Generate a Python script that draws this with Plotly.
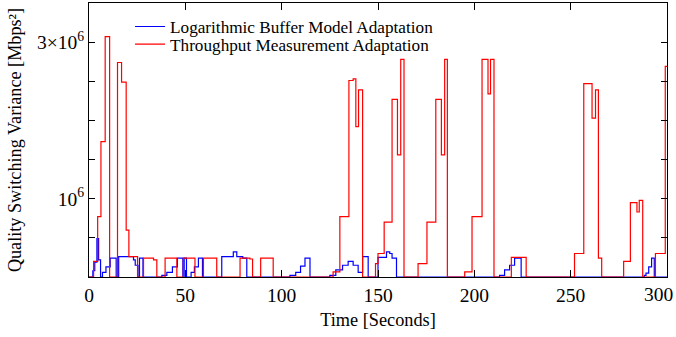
import numpy as np
import plotly.graph_objects as go

# Time [s] where the step value changes, and the value (in 10^6 Mbps^2)
red_t = [0, 2.4, 4.5, 6.2, 8.4, 10.7, 14.8, 16.9, 19.3, 20.7, 25.2,
         28.3, 33.5, 35.2, 39.5, 45.6, 49.0, 55.0, 59.4, 66.3,
         78.4, 83.5, 84.9, 89.1, 95.6,
         126.7, 130.2, 134.9, 137.1, 138.5, 139.9, 142.0,
         148.7, 150.0, 153.2, 157.3, 160.1, 161.8, 163.5,
         170.8, 175.4, 180.0, 182.9, 184.6, 186.0,
         195.0, 198.8, 204.0, 207.1, 208.4, 210.2,
         219.2, 226.9,
         252.0, 256.8, 261.1, 262.9, 264.4, 266.1,
         277.5, 281.0, 284.4, 285.6, 287.4,
         294.0, 299.1, 300.0]
red_v = [0, 0.20, 0.77, 1.73, 3.07, 0, 2.74, 2.49, 0.60, 0.26, 0,
         0.24, 0.22, 0, 0.24, 0, 0.24, 0, 0.24, 0,
         0.24, 0.23, 0, 0.24, 0,
         0.065, 0.77, 2.51, 2.53, 1.92, 2.39, 0,
         0.17, 0.30, 0.70, 2.27, 1.56, 2.78, 0,
         0.17, 0.70, 2.27, 1.56, 2.78, 0,
         0.065, 0.77, 2.78, 2.34, 2.78, 0,
         0.25, 0,
         0.30, 2.47, 2.03, 2.39, 0.24, 0,
         0.20, 0.95, 0.83, 0.98, 0,
         0.30, 2.69, 2.69]

blue_t = [0, 2.0, 3.0, 4.1, 5.0, 6.0, 7.0, 8.8, 11.0, 14.1,
          15.4, 23.1, 24.0, 25.4, 26.2, 28.0,
          37.8, 40.4, 43.3, 45.9, 48.7, 49.4, 50.6,
          53.0, 54.7, 56.8, 58.9,
          68.9, 74.9, 76.7, 79.8, 81.9,
          104.3, 107.3, 109.8, 112.1, 114.7,
          125.0, 128.1, 131.6, 134.5, 137.1, 139.7, 142.0, 144.9,
          150.0, 154.4, 156.1, 157.3, 159.6,
          213.1, 215.7, 218.3, 220.9, 224.3,
          288.2, 289.1, 290.5, 292.0, 293.4, 300.0]
blue_v = [0, 0.08, 0.19, 0.49, 0.22, 0, 0.06, 0.13, 0.24, 0,
          0.26, 0.22, 0.15, 0, 0.24, 0,
          0.02, 0.06, 0.13, 0.24, 0, 0.24, 0,
          0.06, 0.13, 0.24, 0,
          0.26, 0.32, 0.26, 0.24, 0,
          0.02, 0.06, 0.14, 0.24, 0,
          0.02, 0.09, 0.15, 0.20, 0.15, 0.06, 0.26, 0,
          0.25, 0.32, 0.30, 0.24, 0,
          0.02, 0.09, 0.15, 0.24, 0,
          0.02, 0.05, 0.13, 0.24, 0, 0]

scale = 1e6
y_tickvals = [1.0, 3.0]
y_ticktext = ["10<sup>6</sup>", "3×10<sup>6</sup>"]
y_minor_step = 0.5
x_tickvals = [0, 50, 100, 150, 200, 250, 300]
x_ticktext = ["0", "50", "100", "150", "200", "250", "300"]

FONT = "Liberation Serif, Times New Roman, Times, serif"

fig = go.Figure()
fig.add_trace(go.Scatter(
    x=blue_t, y=np.array(blue_v) * scale, mode="lines", line_shape="hv",
    line=dict(color="#0000ff", width=1.2),
    name="Logarithmic Buffer Model Adaptation", legend="legend"))
fig.add_trace(go.Scatter(
    x=red_t, y=np.array(red_v) * scale, mode="lines", line_shape="hv",
    line=dict(color="#ff0000", width=1.2),
    name="Throughput Measurement Adaptation", legend="legend2"))

leg_common = dict(xanchor="left", yanchor="middle", bgcolor="rgba(0,0,0,0)",
                  font=dict(family=FONT, size=17.2), itemwidth=30)

fig.update_layout(
    width=676, height=337,
    margin=dict(l=89, r=9, t=3, b=60, autoexpand=False),
    paper_bgcolor="white", plot_bgcolor="white",
    font=dict(family=FONT, color="black"),
    showlegend=True,
    legend=dict(x=0.071, y=0.913, **leg_common),
    legend2=dict(x=0.071, y=0.849, **leg_common),
)
# last x tick label is nudged inside the page, as in the original
fig.add_annotation(
    x=x_tickvals[-1], xref="x", y=0, yref="paper", text=x_ticktext[-1],
    showarrow=False, xanchor="right", yanchor="middle", xshift=8, yshift=-17,
    font=dict(family=FONT, size=19.5, color="black"))

fig.update_xaxes(
    range=[0, 300], tickvals=x_tickvals[:-1], ticktext=x_ticktext[:-1],
    ticks="inside", ticklen=7,
    tickwidth=1.2, tickcolor="black", showline=True, linecolor="black",
    linewidth=1.2, mirror="ticks", showgrid=False, zeroline=False,
    automargin=False,
    tickfont=dict(family=FONT, size=19.5),
    title=dict(text="Time [Seconds]", font=dict(family=FONT, size=18.3), standoff=8),
)
fig.update_yaxes(
    range=[0, 3.5e6], tickvals=[v * scale for v in y_tickvals], ticktext=y_ticktext,
    ticks="inside", ticklen=6, tickwidth=1.2, tickcolor="black",
    minor=dict(ticks="inside", ticklen=6, tickwidth=1.2, tickcolor="black",
               dtick=y_minor_step * scale, showgrid=False),
    showline=True, linecolor="black", linewidth=1.2, mirror="ticks",
    showgrid=False, zeroline=False, automargin=False,
    tickfont=dict(family=FONT, size=19.5),
    title=dict(text="Quality Switching Variance [Mbps²]", font=dict(family=FONT, size=18.2), standoff=10),
)

fig.write_html("out.html", config={"displayModeBar": False},
               post_script="document.body.style.margin='0';")
